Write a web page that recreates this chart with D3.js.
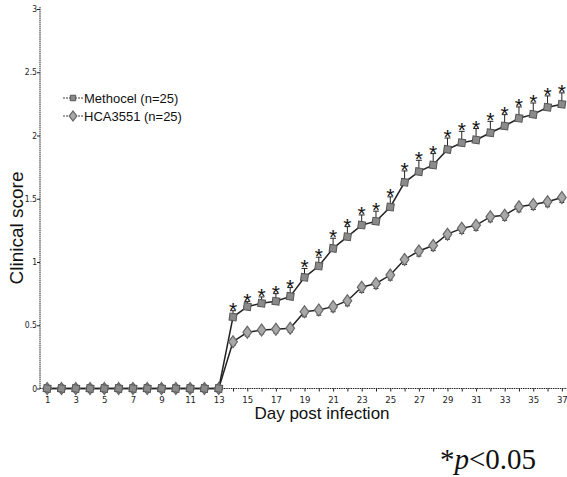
<!DOCTYPE html>
<html>
<head>
<meta charset="utf-8">
<script src="https://cdn.jsdelivr.net/npm/d3@7"></script>
<style>
  body { margin: 0; background: #fff; }
  svg { display: block; font-family: "Liberation Sans", Arial, sans-serif; }
</style>
</head>
<body>
<svg id="chart"></svg>
<script>
const width = 567;
const height = 477;

const days = d3.range(1, 38);
const xTickLabels = [1, 3, 5, 7, 9, 11, 13, 15, 17, 19, 21, 23, 25, 27, 29, 31, 33, 35, 37];
const yTicks = [0, 0.5, 1, 1.5, 2, 2.5, 3];

const methocel = [0, 0, 0, 0, 0, 0, 0, 0, 0, 0, 0, 0, 0,
  0.565, 0.647, 0.674, 0.69, 0.728, 0.879, 0.968, 1.108, 1.2, 1.292, 1.322, 1.435,
  1.63, 1.714, 1.767, 1.89, 1.943, 1.965, 2.022, 2.075, 2.136, 2.167, 2.223, 2.247];
const methocelErr = [0, 0, 0, 0, 0, 0, 0, 0, 0, 0, 0, 0, 0,
  0.05, 0.04, 0.05, 0.06, 0.07, 0.07, 0.07, 0.08, 0.08, 0.08, 0.08, 0.08,
  0.09, 0.09, 0.09, 0.09, 0.09, 0.09, 0.09, 0.09, 0.09, 0.09, 0.09, 0.09];
const hca = [0, 0, 0, 0, 0, 0, 0, 0, 0, 0, 0, 0, 0,
  0.37, 0.444, 0.462, 0.468, 0.476, 0.607, 0.62, 0.647, 0.694, 0.8, 0.83, 0.897,
  1.02, 1.087, 1.13, 1.22, 1.266, 1.29, 1.358, 1.37, 1.437, 1.455, 1.477, 1.51];
const hcaErr = [0, 0, 0, 0, 0, 0, 0, 0, 0, 0, 0, 0, 0,
  0.03, 0.03, 0.03, 0.03, 0.03, 0.04, 0.04, 0.04, 0.04, 0.04, 0.04, 0.04,
  0.04, 0.04, 0.04, 0.04, 0.04, 0.04, 0.04, 0.04, 0.04, 0.04, 0.04, 0.04];
const significant = days.filter(d => d >= 14);

const seriesNames = ["Methocel (n=25)", "HCA3551 (n=25)"];

const svg = d3.select("#chart")
  .attr("width", width)
  .attr("height", height);

const xScale = d3.scaleLinear()
  .domain([0.5, 37.5])
  .range([40, 569]);

const yScale = d3.scaleLinear()
  .domain([0, 3])
  .range([388.5, 9]);

// axes
const xAxis = d3.axisBottom(xScale)
  .tickValues(days)
  .tickSize(3)
  .tickFormat(d => xTickLabels.includes(d) ? d : "");

const yAxis = d3.axisLeft(yScale)
  .tickValues(yTicks)
  .tickSize(3)
  .tickFormat(d => d);

const gx = svg.append("g")
  .attr("transform", "translate(0," + yScale(0) + ")")
  .call(xAxis);
gx.select(".domain").attr("stroke", "#222").attr("stroke-dasharray", "1.5,0.8").attr("d", "M40,0H567");
gx.selectAll(".tick line").attr("stroke", "#222");
gx.selectAll(".tick text")
  .attr("font-size", 9.5)
  .attr("dy", "0.9em")
  .attr("fill", "#222")
  .attr("font-family", "'DejaVu Sans Condensed', 'Liberation Sans Narrow', sans-serif");

const gy = svg.append("g")
  .attr("transform", "translate(40,0)")
  .call(yAxis);
gy.select(".domain").attr("stroke", "#222").attr("stroke-dasharray", "1.5,0.6").attr("d", "M0,388.5V7");
gy.selectAll(".tick line").attr("stroke", "#222");
gy.selectAll(".tick text")
  .attr("font-size", 8.5)
  .attr("fill", "#222")
  .attr("x", -3)
  .attr("font-family", "'DejaVu Sans Condensed', 'Liberation Sans Narrow', sans-serif");

// axis titles
svg.append("text")
  .attr("transform", "translate(23,228) rotate(-90)")
  .attr("text-anchor", "middle")
  .attr("font-size", 19)
  .attr("fill", "#111")
  .text("Clinical score");

svg.append("text")
  .attr("x", 322)
  .attr("y", 419)
  .attr("text-anchor", "middle")
  .attr("font-size", 17)
  .attr("fill", "#111")
  .text("Day post infection");

// lines
const line = d3.line()
  .x((d, i) => xScale(days[i]))
  .y(d => yScale(d));

svg.append("path")
  .datum(hca)
  .attr("fill", "none")
  .attr("stroke", "#222")
  .attr("stroke-width", 1.5)
  .attr("d", line);

svg.append("path")
  .datum(methocel)
  .attr("fill", "none")
  .attr("stroke", "#222")
  .attr("stroke-width", 1.5)
  .attr("d", line);

// error bars (Methocel up, HCA down)
const errGroup = svg.append("g").attr("stroke", "#222").attr("stroke-width", 1);
days.forEach((d, i) => {
  if (methocelErr[i] > 0) {
    const x = xScale(d), y0 = yScale(methocel[i]), y1 = yScale(methocel[i] + methocelErr[i]);
    errGroup.append("line").attr("x1", x).attr("x2", x).attr("y1", y0).attr("y2", y1);
    errGroup.append("line").attr("x1", x - 3).attr("x2", x + 3).attr("y1", y1).attr("y2", y1);
  }
  if (hcaErr[i] > 0) {
    const x = xScale(d), y0 = yScale(hca[i]), y1 = yScale(hca[i] - hcaErr[i]);
    errGroup.append("line").attr("x1", x).attr("x2", x).attr("y1", y0).attr("y2", y1);
    errGroup.append("line").attr("x1", x - 2.5).attr("x2", x + 2.5).attr("y1", y1).attr("y2", y1);
  }
});

// markers
const diamond = d3.symbol().type(d3.symbolDiamond).size(42);
const square = d3.symbol().type(d3.symbolSquare).size(50);

svg.append("g")
  .selectAll("path")
  .data(hca)
  .join("path")
  .attr("d", diamond)
  .attr("transform", (d, i) => "translate(" + xScale(days[i]) + "," + yScale(d) + ") scale(1.25,1)")
  .attr("fill", "#a8a8a8")
  .attr("stroke", "#666")
  .attr("stroke-width", 1);

svg.append("g")
  .selectAll("path")
  .data(methocel)
  .join("path")
  .attr("d", square)
  .attr("transform", (d, i) => "translate(" + xScale(days[i]) + "," + yScale(d) + ") rotate(8)")
  .attr("fill", "#8a8a8a")
  .attr("stroke", "#555")
  .attr("stroke-width", 1);

// significance asterisks
svg.append("g")
  .selectAll("text")
  .data(significant)
  .join("text")
  .attr("x", d => xScale(d))
  .attr("y", d => yScale(methocel[d - 1] + methocelErr[d - 1]) + 6)
  .attr("text-anchor", "middle")
  .attr("font-size", 21)
  .attr("fill", "#111")
  .text("*");

// legend
const legend = svg.append("g").attr("transform", "translate(63,98)");
seriesNames.forEach((name, i) => {
  const g = legend.append("g").attr("transform", "translate(0," + i * 18 + ")");
  g.append("line").attr("x1", 0).attr("x2", 20).attr("y1", 0).attr("y2", 0)
    .attr("stroke", "#444").attr("stroke-width", 1.2).attr("stroke-dasharray", "2,1");
  g.append("path")
    .attr("d", i === 0 ? d3.symbol().type(d3.symbolSquare).size(30) : d3.symbol().type(d3.symbolDiamond).size(30))
    .attr("transform", "translate(10,0)" + (i === 1 ? " scale(1.3,1)" : ""))
    .attr("fill", i === 0 ? "#8a8a8a" : "#a8a8a8")
    .attr("stroke", i === 0 ? "#555" : "#666");
  g.append("text")
    .attr("x", 21)
    .attr("y", 4.5)
    .attr("font-size", 13)
    .attr("fill", "#111")
    .attr("font-family", "'Liberation Sans Narrow', 'Liberation Sans', sans-serif")
    .text(name);
});

// footnote
const foot = svg.append("text")
  .attr("x", 440)
  .attr("y", 469)
  .attr("font-size", 29)
  .attr("fill", "#111")
  .attr("font-family", "'Liberation Serif', 'Times New Roman', serif");
foot.append("tspan").text("*");
foot.append("tspan").attr("font-style", "italic").text("p");
foot.append("tspan").text("<0.05");
</script>
</body>
</html>
